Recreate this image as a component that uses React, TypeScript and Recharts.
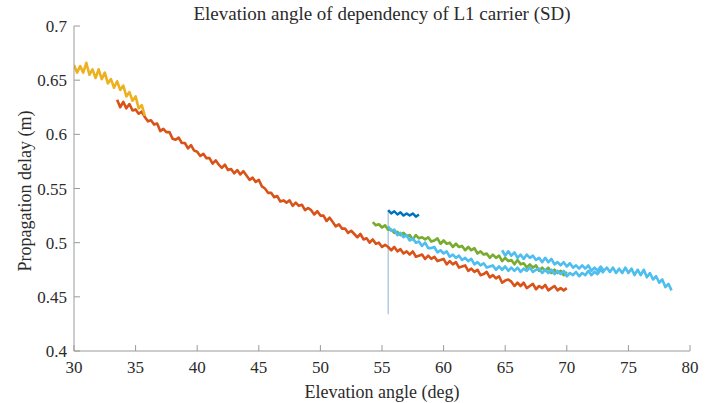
import React from "react";
import { LineChart, Line, XAxis, YAxis } from "recharts";

// samples are taken every quarter degree of elevation
const STEP = 0.25;

const yellowStart = 30;
const yellowDelay = [
  0.664, 0.657, 0.663, 0.657, 0.666, 0.655, 0.66, 0.652, 0.66, 0.651, 0.657, 0.647,
  0.651, 0.643, 0.649, 0.641, 0.645, 0.635, 0.639, 0.631, 0.635, 0.624, 0.627, 0.617,
];

const orangeStart = 33.5;
const orangeDelay = [
  0.632, 0.625, 0.63, 0.624,
  0.628, 0.622, 0.623, 0.619, 0.621, 0.616, 0.612, 0.613, 0.609, 0.61, 0.603, 0.605,
  0.602, 0.602, 0.596, 0.595, 0.597, 0.592, 0.592, 0.587, 0.59, 0.585, 0.584, 0.58,
  0.582, 0.578, 0.578, 0.573, 0.576, 0.572, 0.569, 0.572, 0.567, 0.568, 0.564, 0.567,
  0.563, 0.566, 0.562, 0.558, 0.56, 0.556, 0.558, 0.552, 0.55, 0.546, 0.546, 0.542,
  0.543, 0.538, 0.539, 0.537, 0.539, 0.534, 0.537, 0.534, 0.535, 0.53, 0.532, 0.53,
  0.526, 0.529, 0.525, 0.525, 0.52, 0.523, 0.519, 0.515, 0.517, 0.513, 0.513, 0.509,
  0.511, 0.508, 0.505, 0.508, 0.503, 0.504, 0.5, 0.503, 0.499, 0.5, 0.496, 0.498,
  0.496, 0.493, 0.496, 0.492, 0.494, 0.49, 0.492, 0.489, 0.492, 0.487, 0.488, 0.489,
  0.485, 0.488, 0.485, 0.487, 0.483, 0.484, 0.485, 0.48, 0.483, 0.48, 0.482, 0.477,
  0.478, 0.479, 0.474, 0.476, 0.473, 0.475, 0.47, 0.471, 0.473, 0.468, 0.47, 0.467,
  0.469, 0.463, 0.465, 0.466, 0.464, 0.46, 0.463, 0.46, 0.463, 0.458, 0.46, 0.462,
  0.457, 0.46, 0.458, 0.461, 0.456, 0.458, 0.46, 0.456, 0.458, 0.456, 0.458,
];

const darkBlueStart = 55.5;
const darkBlueDelay = [0.53, 0.527, 0.529, 0.526, 0.528, 0.525, 0.527, 0.525, 0.527, 0.524, 0.526];

// single drop-out at the start of the dark blue track
const dropAngle = [55.5, 55.5];
const dropDelay = [0.53, 0.434];

const greenStart = 54.25;
const greenDelay = [
  0.519, 0.516, 0.517, 0.514, 0.516, 0.512, 0.512, 0.509, 0.51, 0.507, 0.509, 0.506,
  0.507, 0.503, 0.507, 0.504, 0.505, 0.503, 0.505, 0.501, 0.502, 0.504, 0.499, 0.502,
  0.499, 0.5, 0.496, 0.499, 0.496, 0.497, 0.493, 0.496, 0.493, 0.495, 0.49, 0.492,
  0.489, 0.49, 0.486, 0.489, 0.486, 0.488, 0.483, 0.486, 0.483, 0.484, 0.48, 0.484,
  0.48, 0.481, 0.477, 0.48, 0.477, 0.479, 0.474, 0.477, 0.474, 0.477, 0.472, 0.475,
  0.472, 0.474, 0.47, 0.473,
];

const cyanAStart = 55.5;
const cyanADelay = [
  0.515, 0.511, 0.512, 0.507, 0.509, 0.505, 0.507, 0.502, 0.504, 0.5, 0.501, 0.497,
  0.5, 0.495, 0.495, 0.496, 0.491, 0.493, 0.49, 0.492, 0.487, 0.489, 0.486, 0.488,
  0.484, 0.486, 0.483, 0.485, 0.48, 0.482, 0.479, 0.481, 0.477, 0.478, 0.479, 0.475,
  0.478, 0.475, 0.478, 0.474, 0.477, 0.474, 0.477, 0.473, 0.476, 0.474, 0.477, 0.473,
  0.475, 0.476, 0.472, 0.475, 0.472, 0.475, 0.471, 0.474, 0.471, 0.474, 0.469, 0.472,
  0.47, 0.473, 0.469, 0.472, 0.47, 0.474, 0.47, 0.473, 0.471, 0.475, 0.472,
];

const cyanBStart = 64.75;
const cyanBDelay = [
  0.493, 0.488, 0.492, 0.488, 0.491, 0.486, 0.489, 0.485, 0.489, 0.486, 0.488, 0.484,
  0.486, 0.482, 0.486, 0.482, 0.485, 0.48, 0.482, 0.479, 0.482, 0.478, 0.481, 0.477,
  0.479, 0.476, 0.479, 0.476, 0.479, 0.474, 0.477, 0.474, 0.478, 0.474, 0.477, 0.473,
  0.477, 0.472, 0.476, 0.472, 0.477, 0.472, 0.476, 0.47, 0.475, 0.47, 0.475, 0.468,
  0.472, 0.466, 0.469, 0.463, 0.466, 0.459, 0.462, 0.456,
];

const xTicks = [30, 35, 40, 45, 50, 55, 60, 65, 70, 75, 80];
const yTicks = [0.4, 0.45, 0.5, 0.55, 0.6, 0.65, 0.7];

const track = (start: number, values: number[]) =>
  values.map((y, i) => ({ x: start + i * STEP, y }));

const pairs = (xs: number[], ys: number[]) => xs.map((x, i) => ({ x, y: ys[i] }));

const FONT = "'Times New Roman', Times, 'Liberation Serif', serif";
const AXIS = "#9a9a9a";
const tickStyle = { fill: "#2b2b2b", fontSize: 17, fontFamily: FONT };

const series = [
  { key: "drop", data: pairs(dropAngle, dropDelay), color: "#8db4d6", width: 1 },
  { key: "darkBlue", data: track(darkBlueStart, darkBlueDelay), color: "#0072BD", width: 2.4 },
  { key: "orange", data: track(orangeStart, orangeDelay), color: "#D95319", width: 2.6 },
  { key: "yellow", data: track(yellowStart, yellowDelay), color: "#EDB120", width: 2.6 },
  { key: "green", data: track(greenStart, greenDelay), color: "#77AC30", width: 2.6 },
  { key: "cyanA", data: track(cyanAStart, cyanADelay), color: "#4DBEEE", width: 2.6 },
  { key: "cyanB", data: track(cyanBStart, cyanBDelay), color: "#4DBEEE", width: 2.6 },
];

const textBox = {
  position: "absolute" as const,
  fontFamily: FONT,
  color: "#2b2b2b",
  whiteSpace: "nowrap" as const,
  lineHeight: 1,
};

export default function App() {
  return (
    <div style={{ position: "relative", width: 711, height: 403, background: "#fff" }}>
      <style>{`body{margin:0}`}</style>
      <LineChart width={711} height={403} margin={{ top: 26, right: 21, left: 0, bottom: 0 }}>
        <XAxis
          type="number"
          dataKey="x"
          domain={[30, 80]}
          ticks={xTicks}
          height={52}
          tickSize={-6}
          tickMargin={16}
          stroke={AXIS}
          tick={tickStyle}
          allowDataOverflow
        />
        <XAxis
          xAxisId="top"
          orientation="top"
          type="number"
          dataKey="x"
          domain={[30, 80]}
          ticks={xTicks}
          height={0}
          tickSize={-6}
          stroke="#777"
          tick={false}
        />
        <YAxis
          type="number"
          domain={[0.4, 0.7]}
          ticks={yTicks}
          width={74}
          tickSize={-6}
          tickMargin={13}
          stroke={AXIS}
          tick={tickStyle}
          allowDataOverflow
        />
        <YAxis
          yAxisId="right"
          orientation="right"
          type="number"
          domain={[0.4, 0.7]}
          ticks={yTicks}
          width={0}
          tickSize={-6}
          stroke="#b5b5b5"
          tick={false}
        />
        {series.map((s) => (
          <Line
            key={s.key}
            data={s.data}
            dataKey="y"
            type="linear"
            stroke={s.color}
            strokeWidth={s.width}
            strokeLinejoin="round"
            dot={false}
            activeDot={false}
            isAnimationActive={false}
          />
        ))}
      </LineChart>
      <div style={{ ...textBox, fontSize: 19, top: 4, left: 74, width: 616, textAlign: "center" }}>
        Elevation angle of dependency of L1 carrier (SD)
      </div>
      <div style={{ ...textBox, fontSize: 18, top: 383, left: 74, width: 616, textAlign: "center" }}>
        Elevation angle (deg)
      </div>
      <div
        style={{
          ...textBox,
          fontSize: 18,
          left: 25,
          top: 191,
          transform: "translate(-50%, -50%) rotate(-90deg)",
        }}
      >
        Propagation delay (m)
      </div>
    </div>
  );
}
